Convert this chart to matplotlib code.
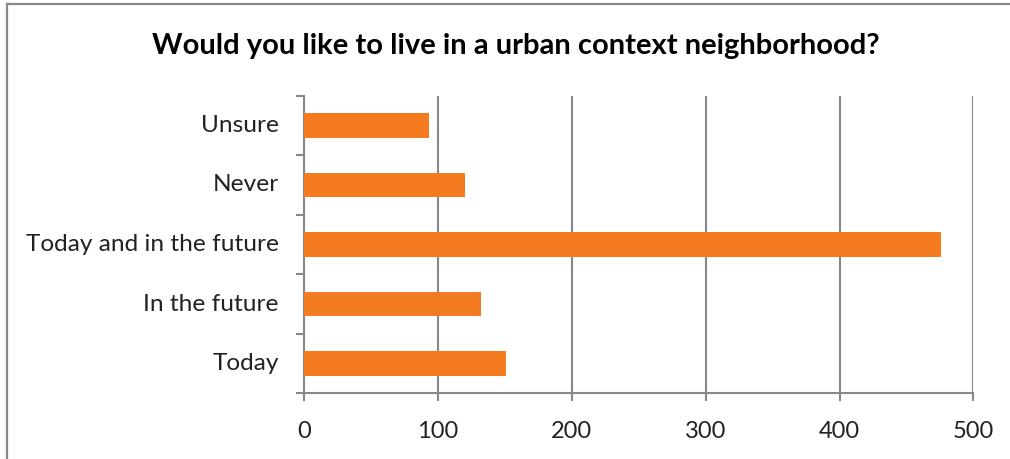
import matplotlib.pyplot as plt
from matplotlib.lines import Line2D

categories = ["Today", "In the future", "Today and in the future", "Never", "Unsure"]
responses = [151, 132, 476, 120, 93]
x_ticks = [0, 100, 200, 300, 400, 500]

plt.rcParams["font.family"] = ["Lato", "DejaVu Sans"]

bar_color = "#F47B20"
axis_gray = "#888888"

fig = plt.figure(figsize=(10.1, 4.59), dpi=100)
ax = fig.add_axes([0.3013, 0.1431, 0.6624, 0.6484])

ax.barh(range(len(categories)), responses, height=0.41, color=bar_color, zorder=3)

ax.set_xlim(0, 500)
ax.set_ylim(-0.5, len(categories) - 0.5)
ax.set_xticks(x_ticks)
ax.set_xticklabels([str(t) for t in x_ticks], fontsize=17, color="#222222")
ax.xaxis.grid(True, color=axis_gray, linewidth=1.5, zorder=0)

# category labels sit between the tick marks, which fall on the boundaries
ax.set_yticks([i + 0.5 for i in range(-1, len(categories))])
ax.set_yticklabels([])
ax.tick_params(axis="y", length=6, width=1.5, color=axis_gray)
ax.tick_params(axis="x", length=6, width=1.5, color=axis_gray, pad=14)
for i, label in enumerate(categories):
    ax.text(-0.038, i, label, transform=ax.get_yaxis_transform(), ha="right",
            va="center", fontsize=17.6, color="#222222")

for side in ["top", "right"]:
    ax.spines[side].set_visible(False)
for side in ["left", "bottom"]:
    ax.spines[side].set_color(axis_gray)
    ax.spines[side].set_linewidth(1.5)

fig.text(0.511, 0.9, "Would you like to live in a urban context neighborhood?",
         ha="center", va="center", fontsize=21, fontweight="bold", color="black")

# chart-area border, only the top and left edges fall inside the image
fig.add_artist(Line2D([0.007, 1.0], [0.991, 0.991], transform=fig.transFigure,
                      color="#888888", linewidth=1.6))
fig.add_artist(Line2D([0.007, 0.007], [0.0, 0.991], transform=fig.transFigure,
                      color="#888888", linewidth=1.6))

fig.savefig("out.png", dpi=100)
